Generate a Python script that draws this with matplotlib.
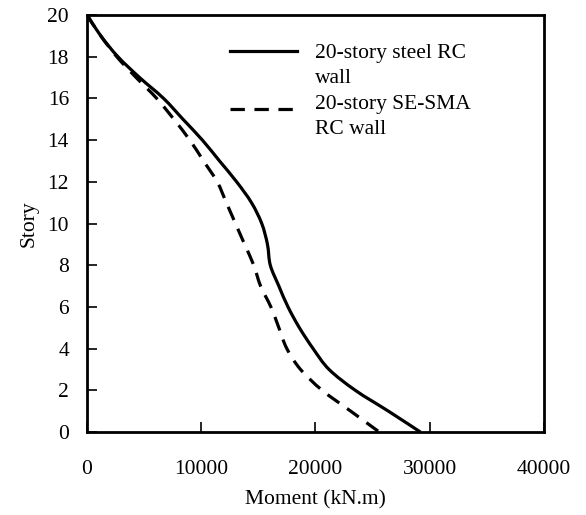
import numpy as np
from matplotlib import pyplot as plt
from matplotlib.path import Path
from matplotlib.patches import PathPatch

plt.rcParams['font.family'] = ['Liberation Serif', 'DejaVu Serif']

# story levels and wall moments (kN.m)
story = [20, 19, 18, 17, 16, 15, 14, 13, 12, 11, 10,
         9, 8, 7, 6, 5, 4, 3, 2, 1, 0]
moment_steel = [0, 1200, 2700, 4600, 6700, 8400, 10100, 11600, 13100, 14400, 15300,
                15800, 16050, 16800, 17600, 18600, 19800, 21200, 23500, 26400, 29200]
moment_sma = [0, 1200, 2600, 4300, 6100, 7600, 9000, 10200, 11400, 12200, 13000,
              13800, 14600, 15200, 16100, 16800, 17500, 18700, 20600, 23100, 25600]

label_steel = '20-story steel RC\nwall'
label_sma = '20-story SE-SMA\nRC wall'


def smooth_path(xs, ys):
    # cubic bezier through every point (catmull-rom tangents), like a spreadsheet smoothed line
    p = np.column_stack([xs, ys]).astype(float)
    n = len(p)
    verts = [p[0]]
    codes = [Path.MOVETO]
    for i in range(n - 1):
        p0 = p[max(i - 1, 0)]
        p1 = p[i]
        p2 = p[i + 1]
        p3 = p[min(i + 2, n - 1)]
        c1 = p1 + (p2 - p0) / 6.0
        c2 = p2 - (p3 - p1) / 6.0
        verts += [c1, c2, p2]
        codes += [Path.CURVE4] * 3
    return Path(verts, codes)


fig = plt.figure(figsize=(5.86, 5.15), dpi=100)
ax = fig.add_axes([0.1485, 0.161, 0.7795, 0.81])

lw = 2.3
dash = (0, (4.5, 3))
ax.add_patch(PathPatch(smooth_path(moment_steel, story), fill=False,
                       edgecolor='black', lw=lw, capstyle='butt'))
ax.add_patch(PathPatch(smooth_path(moment_sma, story), fill=False,
                       edgecolor='black', lw=lw, linestyle=dash))

ax.set_xlim(0, 40000)
ax.set_ylim(0, 20)
ax.set_xticks(np.arange(0, 40001, 10000))
ax.set_yticks(np.arange(0, 21, 2))
ax.tick_params(direction='in', length=7, width=1.2, labelsize=15.5)
ax.tick_params(axis='x', pad=20)
ax.tick_params(axis='y', pad=13)
for sp in ax.spines.values():
    sp.set_linewidth(2.0)

ax.set_xlabel('Moment (kN.m)', fontsize=15.5, labelpad=8)
ax.set_ylabel('Story', fontsize=15.5, labelpad=6)

# legend drawn by hand: key line sits level with the first text line
tr = ax.transAxes
ax.plot([0.313, 0.46], [0.914, 0.914], color='black', lw=lw, transform=tr)
ax.plot([0.313, 0.46], [0.775, 0.775], color='black', lw=lw, linestyle=dash, transform=tr)
ax.text(0.499, 0.93, label_steel, transform=tr, va='top', ha='left',
        fontsize=15.5, linespacing=1.45)
ax.text(0.499, 0.808, label_sma, transform=tr, va='top', ha='left',
        fontsize=15.5, linespacing=1.45)

plt.savefig('out.png', dpi=100)
